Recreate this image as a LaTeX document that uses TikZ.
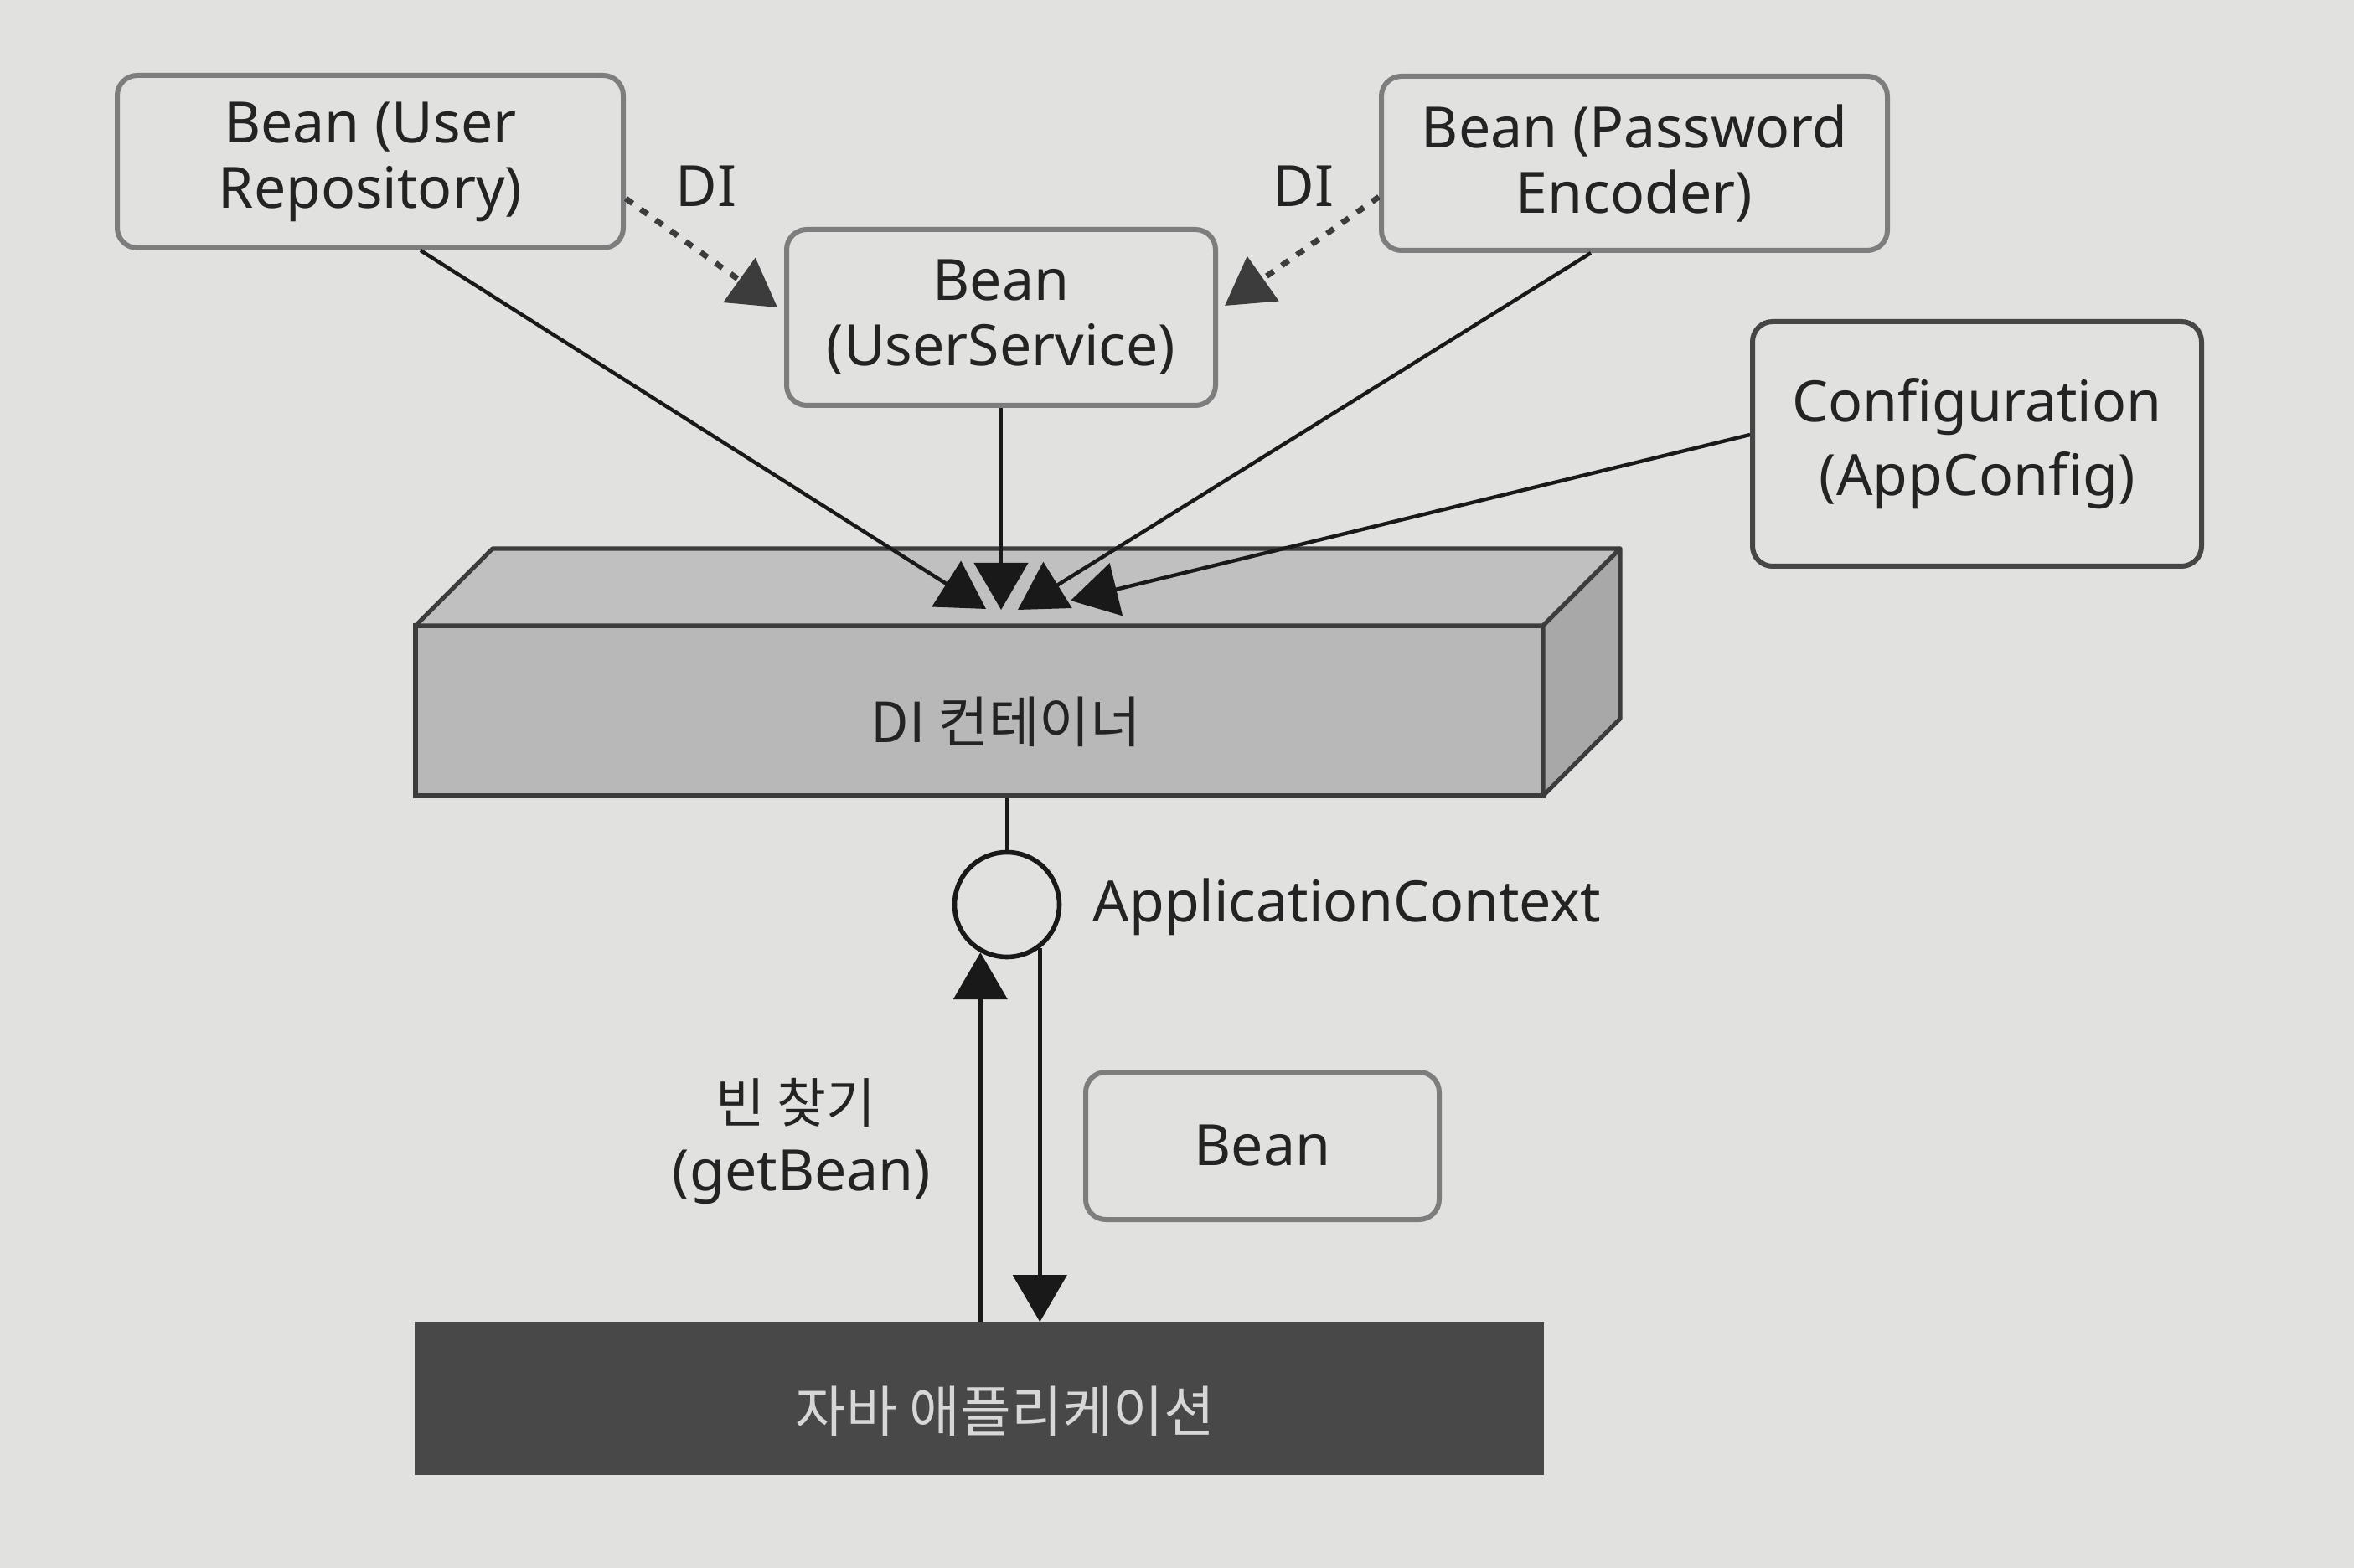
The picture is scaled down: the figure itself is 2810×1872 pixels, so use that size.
\documentclass[tikz,border=0pt]{standalone}
\usepackage{fontspec}
\setmainfont{Noto Sans}
\newfontfamily\kr{Noto Sans CJK KR}
\usetikzlibrary{arrows.meta,calc}
\definecolor{bg}{RGB}{225,225,223}
\definecolor{boxgray}{RGB}{125,125,125}
\definecolor{cfggray}{RGB}{70,70,70}
\definecolor{txt}{RGB}{35,35,35}
\definecolor{lnk}{RGB}{25,25,25}
\definecolor{dotc}{RGB}{60,60,60}
\definecolor{cfront}{RGB}{184,184,184}
\definecolor{ctop}{RGB}{192,192,192}
\definecolor{cright}{RGB}{168,168,168}
\definecolor{cedge}{RGB}{60,60,60}
\definecolor{appfill}{RGB}{72,72,72}
\definecolor{apptext}{RGB}{215,215,215}
\begin{document}
\begin{tikzpicture}[x=0.25pt,y=-0.25pt,
  beanbox/.style={draw=boxgray, line width=1.5pt, rounded corners=6pt, align=center,
    font=\fontsize{17}{19.5}\selectfont, text=txt, inner sep=0pt},
  cfgbox/.style={beanbox, draw=cfggray, font=\fontsize{17}{22}\selectfont},
  conn/.style={line width=1.1pt, draw=lnk, -{Triangle[length=14pt,width=16pt]}},
  diconn/.style={line width=1.7pt, draw=dotc, dash pattern=on 2.5pt off 3pt,
    -{Triangle[length=14pt,width=16pt]}},
  lbl/.style={font=\fontsize{17}{19.5}\selectfont, text=txt, align=center, inner sep=0pt},
  krlbl/.style={font=\kr\fontsize{16.5}{20}\selectfont, text=txt, align=center, inner sep=0pt},
  face/.style={draw=cedge, line width=1.3pt, line join=round}
]
\fill[bg] (0,0) rectangle (2810,1872);
\useasboundingbox (0,0) rectangle (2810,1872);

% top boxes
\node[beanbox, minimum width=151pt, minimum height=51.5pt] (repo) at (442,193) {Bean (User\\Repository)};
\node[beanbox, minimum width=128pt, minimum height=52.5pt] (svc) at (1195,379) {Bean\\(UserService)};
\node[beanbox, minimum width=151pt, minimum height=52pt] (pwd) at (1951,195) {Bean (Password\\Encoder)};
\node[cfgbox, minimum width=134pt, minimum height=73pt] (cfg) at (2360,530) {Configuration\\(AppConfig)};

% DI container (cuboid)
\node[draw=cedge, line width=1.3pt, fill=cfront, minimum width=336.5pt, minimum height=50.75pt, inner sep=0pt] (cont) at (1169,848.5) {};
\coordinate (ctl) at (496,747);
\coordinate (ctr) at (1842,747);
\coordinate (cbr) at (1842,950);
\coordinate (btl) at (588,655);
\coordinate (btr) at (1934,655);
\coordinate (bbr) at (1934,858);
\filldraw[face, fill=ctop] (ctl) -- (btl) -- (btr) -- (ctr) -- cycle;
\filldraw[face, fill=cright] (ctr) -- (btr) -- (bbr) -- (cbr) -- cycle;
\node[krlbl] (contlbl) at (1201,862) {DI 컨테이너};

% arrow tips on the container top
\coordinate (tipA) at (1177,727);
\coordinate (tipB) at (1195,728);
\coordinate (tipC) at (1215,728);
\coordinate (tipD) at (1278,717);

\draw[conn] ([xshift=15pt]repo.south) -- (tipA);
\draw[conn] (svc.south) -- (tipB);
\draw[conn] ([xshift=-13pt]pwd.south) -- (tipC);
\draw[conn] ([yshift=2.75pt]cfg.west) -- (tipD);

% DI dotted arrows
\draw[diconn] ([yshift=-11pt]repo.east) -- ([xshift=-2pt,yshift=3pt]svc.west);
\draw[diconn] ([yshift=-10pt]pwd.west) -- ([xshift=2pt,yshift=3.5pt]svc.east);
\node[lbl] (di1) at (843,222) {DI};
\node[lbl] (di2) at (1556,222) {DI};

% ApplicationContext
\node[circle, draw=lnk, line width=1.4pt, minimum size=31.25pt, inner sep=0pt] (ctx) at (1202,1080) {};
\draw[line width=1.1pt, draw=lnk] (ctx.north) -- (ctx.north |- cont.south);
\node[lbl, anchor=west] (ctxlbl) at (1304,1083) {ApplicationContext};

% Java application bar
\node[fill=appfill, draw=appfill, minimum width=336.5pt, minimum height=45.25pt, inner sep=0pt] (app) at (1169,1669.5) {};
\node[krlbl, text=apptext] (applbl) at (1200,1685) {자바 애플리케이션};

% getBean arrows
\draw[conn] (ctx.-119 |- app.north) -- (ctx.-119);
\draw[conn] (ctx.-53) -- (ctx.-53 |- app.north);
\node[krlbl, font=\kr\fontsize{16}{20}\selectfont] (find) at (950,1316) {빈 찾기};
\node[lbl] (getbean) at (957,1405) {(getBean)};

% returned bean
\node[beanbox, minimum width=105.5pt, minimum height=44pt] (bean) at (1507,1368) {Bean};
\end{tikzpicture}
\end{document}
